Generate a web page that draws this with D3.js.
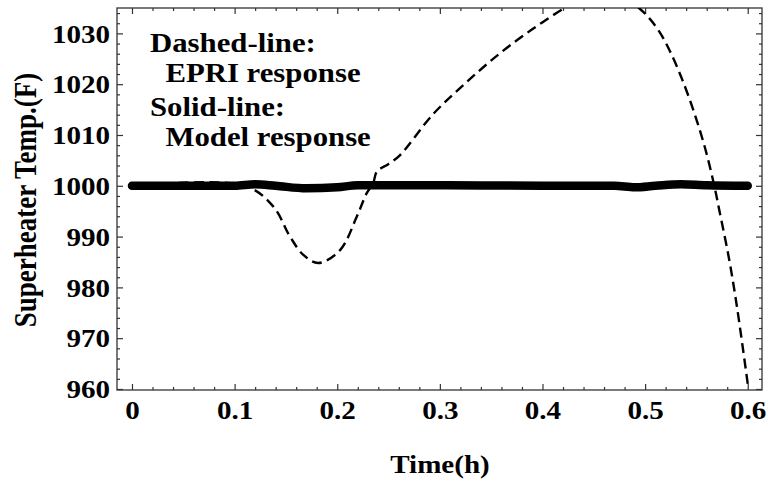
<!DOCTYPE html>
<html>
<head>
<meta charset="utf-8">
<script src="https://cdn.jsdelivr.net/npm/d3@7"></script>
<style>
  body { margin: 0; background: #fff; }
  text { font-family: "Liberation Serif", "Times New Roman", serif; font-weight: bold; }
</style>
</head>
<body>
<div id="chart"></div>
<script>
// model response (solid, thick)
const modelTime = [0, 0.1, 0.12, 0.14, 0.17, 0.2, 0.22, 0.3, 0.4, 0.47, 0.49, 0.51, 0.535, 0.56, 0.6];
const modelTemp = [1000, 1000, 1000.3, 1000, 999.5, 999.7, 1000.1, 1000.1, 1000, 1000, 999.7, 1000, 1000.3, 1000.1, 1000];

// EPRI response (dashed)
const epriTime = [0, 0.11, 0.1378, 0.154, 0.167, 0.1815, 0.2026, 0.219, 0.2286, 0.235, 0.2386, 0.25, 0.261,
  0.2934, 0.326, 0.358, 0.39, 0.4216, 0.44, 0.46, 0.48, 0.494, 0.504, 0.514, 0.524, 0.536, 0.548, 0.559,
  0.5674, 0.5723, 0.582, 0.59, 0.6];
const epriTemp = [1000, 1000, 995.9, 990, 986.4, 984.8, 987.3, 993.9, 998.5, 1000.5, 1002.8, 1004.3, 1006,
  1014.1, 1020.4, 1026, 1030.8, 1035, 1036.9, 1037.6, 1037, 1035, 1033, 1030.3, 1026.6, 1021,
  1014.3, 1007, 1000, 995.2, 985.4, 975.5, 961];

const xTicks = [0, 0.1, 0.2, 0.3, 0.4, 0.5, 0.6];
const yTicks = [960, 970, 980, 990, 1000, 1010, 1020, 1030];
const legendLines = ["Dashed-line:", "  EPRI response", "Solid-line:", "  Model response"];

const width = 768, height = 482;
const margin = {left: 117, right: 6, top: 8, bottom: 92};
const fs = 25.5, stretch = 1.14;

const svg = d3.select("#chart").append("svg")
  .attr("width", width).attr("height", height);

const x = d3.scaleLinear().domain([-0.0146, 0.6139]).range([margin.left, width - margin.right]);
const y = d3.scaleLinear().domain([959.8, 1035]).range([height - margin.bottom, margin.top]);

const xMinor = d3.range(0, 0.6001, 0.02).filter(v => Math.abs(v * 10 - Math.round(v * 10)) > 1e-6);
const yMinor = d3.range(960, 1035, 2).filter(v => v % 10 !== 0);

svg.append("clipPath").attr("id", "plot-clip")
  .append("rect")
  .attr("x", margin.left).attr("y", margin.top)
  .attr("width", width - margin.left - margin.right)
  .attr("height", height - margin.top - margin.bottom);

// frame ticks, all pointing inward
function addAxis(axis, tr, labels) {
  const g = svg.append("g").attr("transform", tr).call(axis);
  g.select(".domain").remove();
  g.selectAll("line").attr("stroke", "#333").attr("stroke-width", 1.2);
  if (!labels) g.selectAll("text").remove();
  return g;
}
const bottomY = height - margin.bottom, rightX = width - margin.right;
const fmtX = d => d === 0 ? "0" : d.toFixed(1);

const gx = addAxis(d3.axisBottom(x).tickValues(xTicks).tickSize(-6).tickPadding(0).tickFormat(fmtX),
  `translate(0,${bottomY})`, true);
gx.selectAll("text").attr("font-size", fs).attr("fill", "#000").attr("dy", 0).attr("y", 29)
  .attr("x", 0).attr("transform", `scale(${stretch},1)`);
addAxis(d3.axisBottom(x).tickValues(xMinor).tickSize(-3), `translate(0,${bottomY})`, false);
addAxis(d3.axisTop(x).tickValues(xTicks).tickSize(-6), `translate(0,${margin.top})`, false);
addAxis(d3.axisTop(x).tickValues(xMinor).tickSize(-3), `translate(0,${margin.top})`, false);

const gy = addAxis(d3.axisLeft(y).tickValues(yTicks).tickSize(-6).tickPadding(0).tickFormat(d3.format("d")),
  `translate(${margin.left},0)`, true);
gy.selectAll("text").attr("font-size", fs).attr("fill", "#000")
  .attr("x", -7 / stretch).attr("dy", "0.34em")
  .attr("transform", `scale(${stretch},1)`);
addAxis(d3.axisLeft(y).tickValues(yMinor).tickSize(-3), `translate(${margin.left},0)`, false);
addAxis(d3.axisRight(y).tickValues(yTicks).tickSize(-6), `translate(${rightX},0)`, false);
addAxis(d3.axisRight(y).tickValues(yMinor).tickSize(-3), `translate(${rightX},0)`, false);

// frame
svg.append("rect")
  .attr("x", margin.left).attr("y", margin.top)
  .attr("width", rightX - margin.left).attr("height", bottomY - margin.top)
  .attr("fill", "none").attr("stroke", "#333").attr("stroke-width", 1.3);

const line = d3.line().curve(d3.curveCatmullRom.alpha(0.5));

svg.append("path")
  .attr("clip-path", "url(#plot-clip)")
  .attr("d", line(epriTime.map((t, i) => [x(t), y(epriTemp[i])])))
  .attr("fill", "none").attr("stroke", "#000").attr("stroke-width", 2.4)
  .attr("stroke-dasharray", "10,5.5");

svg.append("path")
  .attr("d", d3.line().curve(d3.curveMonotoneX)(modelTime.map((t, i) => [x(t), y(modelTemp[i])])))
  .attr("fill", "none").attr("stroke", "#000").attr("stroke-width", 8.5)
  .attr("stroke-linecap", "round").attr("stroke-linejoin", "round");

// legend text
const legendBase = [52, 82, 116, 146];
svg.append("g").selectAll("text").data(legendLines).join("text")
  .attr("transform", (d, i) => `translate(150,${legendBase[i]}) scale(${stretch},1)`)
  .attr("font-size", 27)
  .attr("xml:space", "preserve")
  .style("white-space", "pre")
  .text(d => d);

// axis labels
svg.append("text")
  .attr("transform", `translate(440,473) scale(${stretch},1)`)
  .attr("text-anchor", "middle").attr("font-size", fs)
  .text("Time(h)");

svg.append("text")
  .attr("transform", `translate(35.5,200) scale(${stretch},1) rotate(-90)`)
  .attr("text-anchor", "middle").attr("font-size", 27)
  .text("Superheater Temp.(F)");
</script>
</body>
</html>
